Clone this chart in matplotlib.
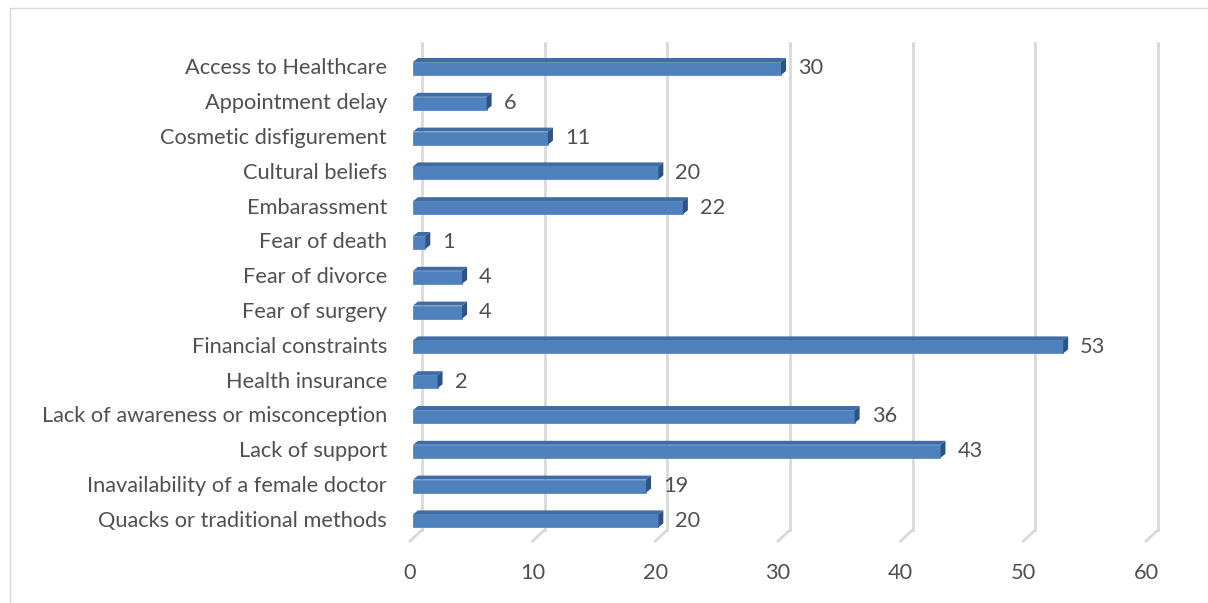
import matplotlib
matplotlib.use("Agg")
import matplotlib.pyplot as plt
from matplotlib.patches import Polygon, Rectangle
from matplotlib.lines import Line2D

categories = ["Access to Healthcare", "Appointment delay", "Cosmetic disfigurement",
              "Cultural beliefs", "Embarassment", "Fear of death", "Fear of divorce",
              "Fear of surgery", "Financial constraints", "Health insurance",
              "Lack of awareness or misconception", "Lack of support",
              "Inavailability of a female doctor", "Quacks or traditional methods"]
values = [30, 6, 11, 20, 22, 1, 4, 4, 53, 2, 36, 43, 19, 20]
x_ticks = [0, 10, 20, 30, 40, 50, 60]

plt.rcParams['font.family'] = ['Lato', 'DejaVu Sans']
TXT = '#505050'
GRID = '#d9d9d9'
FRONT = '#4f81bd'
TOP = '#3f6ca4'
SIDE = '#2e5383'

W, H = 1208, 603
fig = plt.figure(figsize=(W / 100, H / 100), dpi=100)

# chart border
fig.add_artist(Rectangle((10 / W, -0.1), 1.2, (H - 8) / H + 0.1, transform=fig.transFigure,
                         fill=False, edgecolor=GRID, linewidth=1.0))

x0px, x1px = 410, 1146
ytop, ybot = 43, 541
yc0, ystep = 68.5, 34.8
ax = fig.add_axes([x0px / W, (H - ybot) / H, (x1px - x0px) / W, (ybot - ytop) / H])
ax.set_xlim(0, 60)
ax.set_ylim((ybot - yc0) / ystep, (ytop - yc0) / ystep)
ax.axis('off')

sx = (x1px - x0px) / 60.0


def ypx(p):
    return (p - yc0) / ystep


# measure font size so category label width matches
fs = 14
renderer = fig.canvas.get_renderer()
t = fig.text(0, 0, "Access to Healthcare", fontsize=fs)
w = t.get_window_extent(renderer).width
t.remove()
fs = fs * 202.0 / w

# gridlines (back wall) with floor diagonals
for tk in x_ticks:
    xb = tk + 12 / sx
    ax.add_line(Line2D([xb, xb], [ypx(530), ypx(43)], color=GRID, lw=2, zorder=1, clip_on=False))
    ax.add_line(Line2D([xb, tk], [ypx(530), ypx(541)], color=GRID, lw=2, zorder=1, clip_on=False))
    ax.text(tk, ypx(573), str(tk), ha='center', va='center', color=TXT, fontsize=fs)

h = 13 / ystep
dx = 5 / sx
dy = 4 / ystep
bx0 = 3 / sx
ys = list(range(len(categories)))
ax.barh(ys, values, height=h, left=bx0, color=FRONT, edgecolor='#5a8ac4', linewidth=0.6, zorder=3)
for i, v in zip(ys, values):
    top = i - h / 2
    bot = i + h / 2
    ax.add_patch(Polygon([(bx0, top), (bx0 + v, top), (bx0 + v + dx, top - dy), (bx0 + dx, top - dy)],
                         closed=True, facecolor=TOP, edgecolor='none', zorder=3))
    ax.add_patch(Polygon([(bx0 + v, top), (bx0 + v + dx, top - dy), (bx0 + v + dx, bot - dy), (bx0 + v, bot)],
                         closed=True, facecolor=SIDE, edgecolor='none', zorder=3))
    ax.text(bx0 + v + dx + 12 / sx, i, str(v), ha='left', va='center', color=TXT, fontsize=fs, zorder=4)
    ax.text(-(x0px - 387) / sx, i, categories[i], ha='right', va='center', color=TXT, fontsize=fs)

fig.savefig('out.png', dpi=100)
